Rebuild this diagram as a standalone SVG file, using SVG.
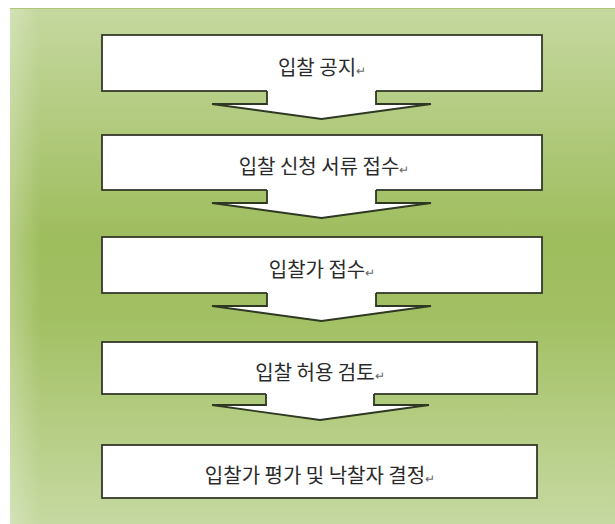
<svg xmlns="http://www.w3.org/2000/svg" width="615" height="524" viewBox="0 0 615 524">
  <defs>
    <linearGradient id="bgV" x1="0" y1="0" x2="0" y2="1">
      <stop offset="0" stop-color="#c5d89f"/>
      <stop offset="0.45" stop-color="#9ebd5d"/>
      <stop offset="0.6" stop-color="#a2c063"/>
      <stop offset="1" stop-color="#c6d9a1"/>
    </linearGradient>
    <linearGradient id="bgH" x1="0" y1="0" x2="1" y2="0">
      <stop offset="0" stop-color="#ffffff" stop-opacity="0.25"/>
      <stop offset="0.05" stop-color="#ffffff" stop-opacity="0"/>
      <stop offset="1" stop-color="#ffffff" stop-opacity="0"/>
    </linearGradient>
  </defs>
  <style>
    .box { fill: #ffffff; stroke: #34392a; stroke-width: 1.8; }
    .afill { fill: #ffffff; stroke: none; }
    .aline { fill: none; stroke: #2e3822; stroke-width: 1.8; stroke-linejoin: miter; }
    .lbl { font-family: "Noto Sans CJK KR", "Noto Sans", sans-serif; font-size: 20px; fill: #2a2a2a; text-anchor: middle; }
    .ret { font-size: 12px; fill: #666666; }
  </style>
  <rect x="0" y="0" width="615" height="524" fill="#ffffff"/>
  <rect x="10" y="8" width="605" height="516" fill="url(#bgV)"/>
  <rect x="10" y="8" width="605" height="516" fill="url(#bgH)"/>
  <line x1="10" y1="8.5" x2="615" y2="8.5" stroke="#aec67a" stroke-width="1"/>

  <g id="node1">
    <rect class="box" x="102" y="35" width="440" height="56"/>
    <text class="lbl" x="322" y="75">입찰 공지<tspan class="ret">↵</tspan></text>
  </g>
  <g id="node2">
    <rect class="box" x="102" y="135" width="440" height="55"/>
    <text class="lbl" x="324" y="174">입찰 신청 서류 접수<tspan class="ret">↵</tspan></text>
  </g>
  <g id="node3">
    <rect class="box" x="102" y="237" width="440" height="56"/>
    <text class="lbl" x="322" y="277">입찰가 접수<tspan class="ret">↵</tspan></text>
  </g>
  <g id="node4">
    <rect class="box" x="102" y="342" width="435" height="52"/>
    <text class="lbl" x="320" y="380">입찰 허용 검토<tspan class="ret">↵</tspan></text>
  </g>
  <g id="node5">
    <rect class="box" x="102" y="445" width="435" height="53"/>
    <text class="lbl" x="320" y="483">입찰가 평가 및 낙찰자 결정<tspan class="ret">↵</tspan></text>
  </g>

  <g id="connectors">
    <g id="arrow1">
      <polygon class="afill" points="267,89 267,104 212,104 321.5,119 431,104 376,104 376,89"/>
      <polyline class="aline" points="267,91 267,104 212,104 321.5,119 431,104 376,104 376,91"/>
    </g>
    <g id="arrow2">
      <polygon class="afill" points="267,188 267,203 212,203 321.5,218 431,203 376,203 376,188"/>
      <polyline class="aline" points="267,190 267,203 212,203 321.5,218 431,203 376,203 376,190"/>
    </g>
    <g id="arrow3">
      <polygon class="afill" points="267,291 267,306 212,306 321.5,321 431,306 376,306 376,291"/>
      <polyline class="aline" points="267,293 267,306 212,306 321.5,321 431,306 376,306 376,293"/>
    </g>
    <g id="arrow4">
      <polygon class="afill" points="266,392 266,405 212,405 320,420 429,405 374,405 374,392"/>
      <polyline class="aline" points="266,394 266,405 212,405 320,420 429,405 374,405 374,394"/>
    </g>
  </g>
</svg>
